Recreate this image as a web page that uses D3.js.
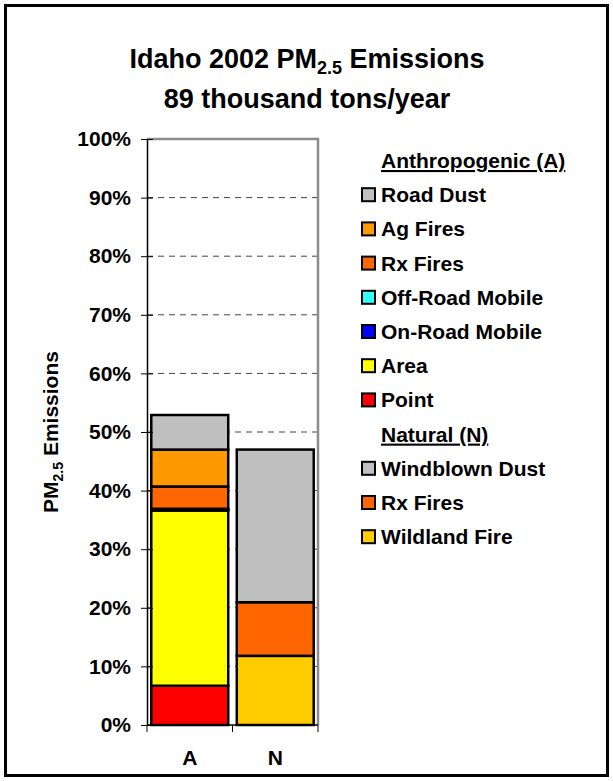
<!DOCTYPE html>
<html>
<head>
<meta charset="utf-8">
<title>Idaho 2002 PM2.5 Emissions</title>
<style>
body { margin: 0; background: #fff; }
svg text { font-family: "Liberation Sans", Arial, sans-serif; font-weight: bold; fill: #000; }
</style>
</head>
<body>
<svg id="chart" width="613" height="781"></svg>
<script src="https://d3js.org/d3.v7.min.js"></script>
<script>
// data (percent of state total)
const categories = ["A", "N"];
const anthroNames = ["Point", "Area", "On-Road Mobile", "Off-Road Mobile", "Rx Fires", "Ag Fires", "Road Dust"];
const anthroValues = [6.7, 29.9, 0.15, 0.15, 3.8, 6.3, 5.9];
const anthroColors = ["#ff0000", "#ffff00", "#0000ff", "#33ffff", "#ff6600", "#ff9900", "#c0c0c0"];
const naturalNames = ["Wildland Fire", "Rx Fires", "Windblown Dust"];
const naturalValues = [11.8, 9.15, 26.05];
const naturalColors = ["#ffcc00", "#ff6600", "#c0c0c0"];
const yTicks = [0, 10, 20, 30, 40, 50, 60, 70, 80, 90, 100];

const svg = d3.select("#chart");

// outer frame
svg.append("rect")
  .attr("x", 5.5).attr("y", 5.5).attr("width", 602).attr("height", 770)
  .attr("fill", "#fff").attr("stroke", "#000").attr("stroke-width", 3);

const plot = { left: 147, right: 318, top: 139, bottom: 725 };

const x = d3.scaleBand()
  .domain(categories)
  .range([plot.left, plot.right])
  .paddingInner(0.1)
  .paddingOuter(0.05);

const y = d3.scaleLinear()
  .domain([0, 100])
  .range([plot.bottom, plot.top]);

// title
const title = svg.append("text")
  .attr("x", 307).attr("y", 68)
  .attr("text-anchor", "middle")
  .attr("font-size", 27);
title.append("tspan").text("Idaho 2002 PM");
title.append("tspan").attr("font-size", 18).attr("dy", 6).text("2.5");
title.append("tspan").attr("dy", -6).text(" Emissions");

svg.append("text")
  .attr("x", 307).attr("y", 108)
  .attr("text-anchor", "middle")
  .attr("font-size", 27)
  .text("89 thousand tons/year");

// gridlines
svg.append("g")
  .selectAll("line")
  .data(yTicks.filter(d => d > 0 && d < 100))
  .join("line")
  .attr("x1", plot.left).attr("x2", plot.right)
  .attr("y1", d => y(d)).attr("y2", d => y(d))
  .attr("stroke", "#444")
  .attr("stroke-dasharray", "6,5");

// plot area border (top/right gray)
svg.append("path")
  .attr("d", `M${plot.left},${plot.top}H${plot.right}V${plot.bottom}`)
  .attr("fill", "none")
  .attr("stroke", "#8c8c8c")
  .attr("stroke-width", 2.5);

// stacked bars
function drawStack(cat, values, colors) {
  let base = 0;
  const segs = values.map((v, i) => {
    const s = { y0: base, y1: base + v, color: colors[i] };
    base += v;
    return s;
  });
  svg.append("g")
    .selectAll("rect")
    .data(segs)
    .join("rect")
    .attr("x", x(cat))
    .attr("width", x.bandwidth())
    .attr("y", d => y(d.y1))
    .attr("height", d => y(d.y0) - y(d.y1))
    .attr("fill", d => d.color)
    .attr("stroke", "#000")
    .attr("stroke-width", 2.5);
}
drawStack("A", anthroValues, anthroColors);
drawStack("N", naturalValues, naturalColors);

// y axis
const yAxis = d3.axisLeft(y)
  .tickValues(yTicks)
  .tickFormat(d => d + "%")
  .tickSizeInner(6)
  .tickSizeOuter(0)
  .tickPadding(10);

const gy = svg.append("g")
  .attr("transform", `translate(${plot.left},0)`)
  .call(yAxis);
gy.select(".domain").attr("stroke", "#000").attr("stroke-width", 1.5);
gy.selectAll(".tick line").attr("x2", 6).attr("x1", -6).attr("stroke", "#000");
gy.selectAll(".tick text")
  .attr("font-size", 21)
  .attr("font-family", "Liberation Sans, Arial, sans-serif")
  .attr("font-weight", "bold")
  .attr("fill", "#000")
  .attr("x", -16);

// x axis
const bounds = [plot.left, (x("A") + x.bandwidth() + x("N")) / 2, plot.right];
svg.append("line")
  .attr("x1", plot.left).attr("x2", plot.right)
  .attr("y1", plot.bottom).attr("y2", plot.bottom)
  .attr("stroke", "#000").attr("stroke-width", 1.5);
svg.append("g")
  .selectAll("line")
  .data(bounds)
  .join("line")
  .attr("x1", d => d).attr("x2", d => d)
  .attr("y1", plot.bottom).attr("y2", plot.bottom + 7)
  .attr("stroke", "#000");
svg.append("g")
  .selectAll("text")
  .data(categories)
  .join("text")
  .attr("x", d => x(d) + x.bandwidth() / 2)
  .attr("y", 765)
  .attr("text-anchor", "middle")
  .attr("font-size", 21)
  .text(d => d);

// y axis title
const yt = svg.append("text")
  .attr("transform", "translate(58,432) rotate(-90)")
  .attr("text-anchor", "middle")
  .attr("font-size", 21);
yt.append("tspan").text("PM");
yt.append("tspan").attr("font-size", 14).attr("dy", 5).text("2.5");
yt.append("tspan").attr("dy", -5).text(" Emissions");

// legend
const legendRows = [
  { label: "Anthropogenic (A)", header: true },
  ...anthroNames.map((n, i) => ({ label: n, color: anthroColors[i] })).reverse(),
  { label: "Natural (N)", header: true },
  ...naturalNames.map((n, i) => ({ label: n, color: naturalColors[i] })).reverse()
];

const legend = svg.append("g");
legendRows.forEach((r, i) => {
  const cy = 161 + i * 34.2;
  if (!r.header) {
    legend.append("rect")
      .attr("x", 362).attr("y", cy - 7)
      .attr("width", 13).attr("height", 13)
      .attr("fill", r.color)
      .attr("stroke", "#000").attr("stroke-width", 2);
  }
  legend.append("text")
    .attr("x", 381).attr("y", cy + 7)
    .attr("font-size", 21)
    .attr("text-decoration", r.header ? "underline" : null)
    .text(r.label);
});
</script>
</body>
</html>
